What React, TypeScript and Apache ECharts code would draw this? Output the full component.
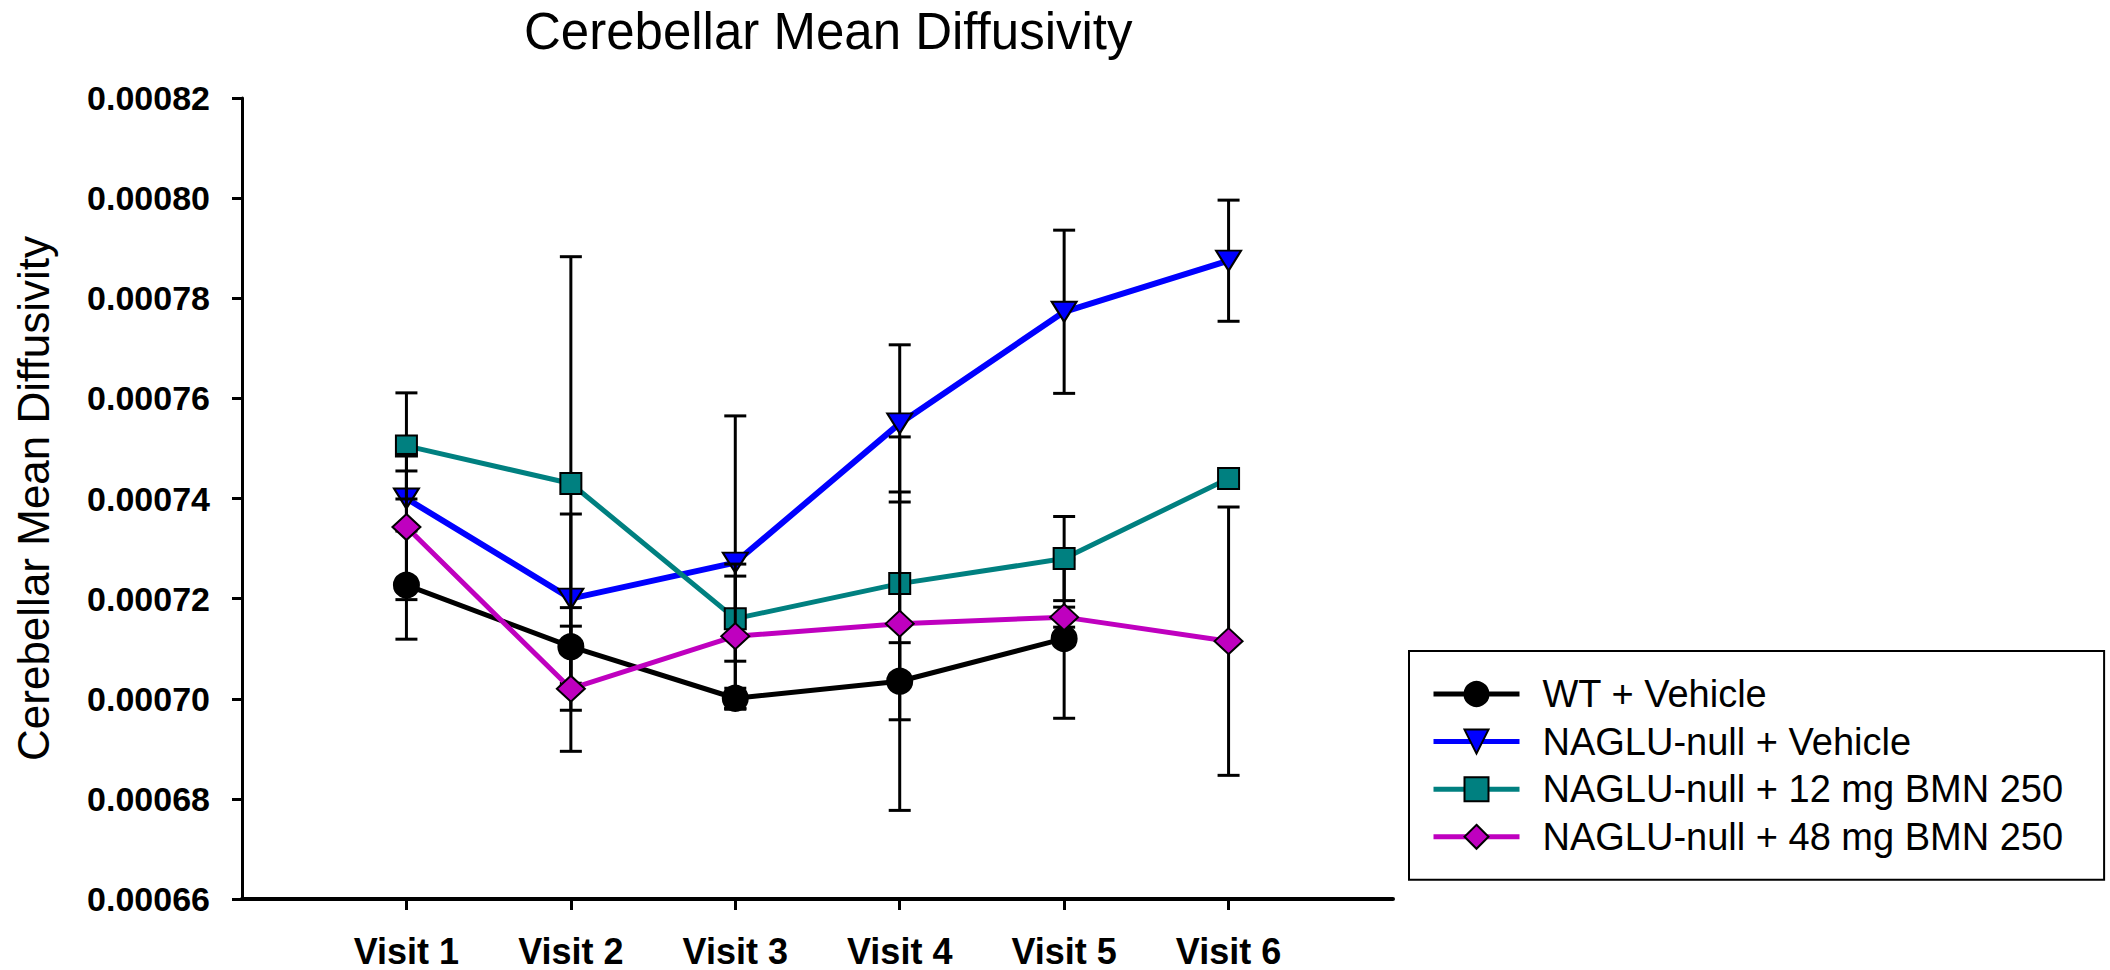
import React, { useEffect, useRef } from "react";
import * as echarts from "echarts";

const FONT = "'Liberation Sans', Arial, Helvetica, sans-serif";

const visits = [1, 2, 3, 4, 5, 6];
const visitLabels = ["Visit 1", "Visit 2", "Visit 3", "Visit 4", "Visit 5", "Visit 6"];
const yTicks = [0.00066, 0.00068, 0.0007, 0.00072, 0.00074, 0.00076, 0.00078, 0.0008, 0.00082];

const seriesNames = [
  "WT + Vehicle",
  "NAGLU-null + Vehicle",
  "NAGLU-null + 12 mg BMN 250",
  "NAGLU-null + 48 mg BMN 250",
];

const wtMean = [0.0007227, 0.0007104, 0.0007001, 0.0007035, 0.000712, null];
const wtSem = [0.0000108, 0.0000078, 0.000002, 0.0000077, 0.0000159, null];

const naglVehMean = [0.00074, 0.00072, 0.0007272, 0.000755, 0.0007773, 0.0007875];
const naglVehSem = [0.0000055, 0.0000169, 0.0000293, 0.0000157, 0.0000163, 0.0000121];

const bmn12Mean = [0.0007505, 0.000743, 0.000716, 0.000723, 0.000728, 0.000744];
const bmn12Sem = [0.0000106, 0.0000453, 0.0000085, 0.0000183, 0.0000084, null];

const bmn48Mean = [0.0007343, 0.000702, 0.0007125, 0.000715, 0.0007163, 0.0007115];
const bmn48Sem = [0.0000145, 0.0000125, 0.0000144, 0.0000373, 0.000002, 0.0000268];

const means = [wtMean, naglVehMean, bmn12Mean, bmn48Mean];
const sems = [wtSem, naglVehSem, bmn12Sem, bmn48Sem];
const colors = ["#000000", "#0000ff", "#008080", "#bf00bf"];
const symbols = ["circle", "triangle", "rect", "diamond"];
const symbolSizes: any[] = [25, [25, 20], 21, [28, 26]];
const symbolRotates = [0, 180, 0, 0];
const lineWidths = [5, 6, 5, 5];

export default function App() {
  const ref = useRef<HTMLDivElement>(null);

  useEffect(() => {
    if (!ref.current) return;
    const chart = echarts.init(ref.current, null, { renderer: "svg" });

    const series: any[] = [];
    seriesNames.forEach((name, i) => {
      const errData: any[] = [];
      visits.forEach((v, k) => {
        const m = means[i][k];
        const s = sems[i][k];
        if (m != null && s != null) errData.push([v, m, s]);
      });
      series.push({
        type: "custom",
        name: name + " SEM",
        z: 10 * i + 1,
        encode: { x: 0, y: 1 },
        data: errData,
        silent: true,
        renderItem: (params: any, api: any) => {
          const x = api.value(0);
          const m = api.value(1);
          const s = api.value(2);
          const top = api.coord([x, m + s]);
          const bot = api.coord([x, m - s]);
          const hw = 11;
          const st = { stroke: "#000", lineWidth: 3 };
          return {
            type: "group",
            children: [
              { type: "line", shape: { x1: top[0], y1: top[1], x2: bot[0], y2: bot[1] }, style: st },
              { type: "line", shape: { x1: top[0] - hw, y1: top[1], x2: top[0] + hw, y2: top[1] }, style: st },
              { type: "line", shape: { x1: bot[0] - hw, y1: bot[1], x2: bot[0] + hw, y2: bot[1] }, style: st },
            ],
          };
        },
      });
      series.push({
        type: "line",
        name,
        z: 10 * i + 2,
        data: visits.map((v, k) => (means[i][k] == null ? [v, null] : [v, means[i][k]])),
        connectNulls: false,
        symbol: symbols[i],
        symbolSize: symbolSizes[i],
        symbolRotate: symbolRotates[i],
        showAllSymbol: true,
        lineStyle: { color: colors[i], width: lineWidths[i] },
        itemStyle: { color: colors[i], borderColor: "#000", borderWidth: 2, opacity: 1 },
        emphasis: { disabled: true },
      });
    });

    chart.setOption({
      animation: false,
      backgroundColor: "#ffffff",
      textStyle: { fontFamily: FONT },
      title: {
        text: "Cerebellar Mean Diffusivity",
        left: 524,
        top: 6,
        padding: 0,
        textStyle: { fontFamily: FONT, fontSize: 51, fontWeight: "normal", color: "#000" },
      },
      legend: {
        orient: "vertical",
        left: 1409,
        top: 651,
        data: seriesNames,
        selectedMode: false,
        itemWidth: 86,
        itemHeight: 30,
        itemGap: 9.6,
        padding: [24, 41, 24, 22],
        borderColor: "#000",
        borderWidth: 2,
        backgroundColor: "#fff",
        lineStyle: { width: 5 },
        textStyle: { fontFamily: FONT, fontSize: 38, color: "#000", padding: [0, 0, 0, 18] },
      },
      grid: {
        left: 242,
        top: 98,
        right: 717,
        bottom: 71,
        containLabel: false,
        outerBoundsMode: "none",
      },
      xAxis: {
        type: "value",
        min: 0,
        max: 7,
        interval: 1,
        splitLine: { show: false },
        axisLine: { show: true, onZero: false, lineStyle: { color: "#000", width: 4 } },
        axisTick: { show: true, inside: false, length: 11, customValues: visits, lineStyle: { color: "#000", width: 3 } },
        axisLabel: {
          show: true,
          margin: 34,
          customValues: visits,
          fontFamily: FONT,
          fontSize: 36,
          fontWeight: "bold",
          color: "#000",
          formatter: (v: number) => {
            const idx = visits.indexOf(Math.round(v));
            return idx >= 0 ? visitLabels[idx] : "";
          },
        },
      },
      yAxis: {
        type: "value",
        min: yTicks[0],
        max: yTicks[yTicks.length - 1],
        interval: 0.00002,
        name: "Cerebellar Mean Diffusivity",
        nameLocation: "middle",
        nameGap: 187,
        nameTextStyle: { fontFamily: FONT, fontSize: 44, fontWeight: "normal", color: "#000" },
        splitLine: { show: false },
        axisLine: { show: true, onZero: false, lineStyle: { color: "#000", width: 3 } },
        axisTick: { show: true, inside: false, length: 10, lineStyle: { color: "#000", width: 3 } },
        axisLabel: {
          margin: 32,
          fontFamily: FONT,
          fontSize: 34,
          fontWeight: "bold",
          color: "#000",
          formatter: (v: number) => v.toFixed(5),
        },
      },
      series,
    });

    return () => chart.dispose();
  }, []);

  return (
    <div
      ref={ref}
      style={{ position: "fixed", left: 0, top: 0, width: 2110, height: 970, background: "#fff" }}
    />
  );
}
